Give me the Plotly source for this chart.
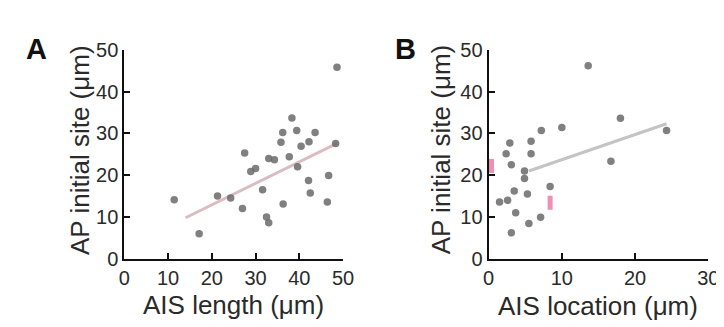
import plotly.graph_objects as go

# ---- Panel A: AP initial site vs AIS length ----
a_x = [11.4, 17.1, 21.3, 24.3, 27.0, 27.5, 28.9, 30.0, 31.6, 32.5, 33.0, 33.0, 34.3, 35.8, 36.2,
       36.3, 37.7, 38.3, 39.4, 39.6, 40.4, 42.2, 42.1, 42.5, 43.6, 46.7, 46.4, 48.3, 48.6]
a_y = [14.1, 6.0, 15.0, 14.5, 12.0, 25.3, 20.9, 21.6, 16.5, 10.0, 8.6, 24.0, 23.7, 27.9, 30.2,
       13.1, 24.4, 33.7, 30.7, 22.0, 26.9, 28.0, 18.7, 15.7, 30.2, 19.9, 13.6, 27.6, 45.8]
a_fit_x = [14.0, 48.6]
a_fit_y = [9.8, 27.6]

# ---- Panel B: AP initial site vs AIS location ----
b_x = [13.6, 18.0, 24.3, 16.7, 10.0, 7.2, 5.8, 2.9, 5.8, 2.4, 3.1, 4.9, 4.9, 3.5, 2.6,
       5.3, 8.4, 1.5, 3.7, 5.5, 7.1, 3.1]
b_y = [46.2, 33.6, 30.7, 23.3, 31.4, 30.7, 28.1, 27.7, 25.1, 25.1, 22.5, 21.0, 19.2, 16.2, 14.0,
       15.5, 17.3, 13.6, 11.0, 8.4, 9.9, 6.2]
b_pink_x = [0.4, 8.4]
b_pink_y = [22.2, 13.4]
b_fit_x = [5.5, 24.3]
b_fit_y = [21.0, 32.3]

x_ticks_a = [0, 10, 20, 30, 40, 50]
x_ticks_b = [0, 10, 20, 30]
y_ticks = [0, 10, 20, 30, 40, 50]

FONT = "Liberation Sans, Arial, sans-serif"
TXT = "#2a2a2a"
MARK = "#6a6a6a"

fig = go.Figure()

fig.add_trace(go.Scatter(x=a_fit_x, y=a_fit_y, mode="lines",
                         line=dict(color="#dcbcc4", width=3), xaxis="x", yaxis="y",
                         showlegend=False, hoverinfo="skip"))
fig.add_trace(go.Scatter(x=a_x, y=a_y, mode="markers",
                         marker=dict(color=MARK, size=7.5, opacity=0.85),
                         xaxis="x", yaxis="y", showlegend=False))

fig.add_trace(go.Scatter(x=b_fit_x, y=b_fit_y, mode="lines",
                         line=dict(color="#c4c4c4", width=3), xaxis="x2", yaxis="y2",
                         showlegend=False, hoverinfo="skip"))
fig.add_trace(go.Scatter(x=b_x, y=b_y, mode="markers",
                         marker=dict(color=MARK, size=7.5, opacity=0.85),
                         xaxis="x2", yaxis="y2", showlegend=False))
fig.add_trace(go.Scatter(x=b_pink_x, y=b_pink_y, mode="markers",
                         marker=dict(color="#ea6a98", size=10, opacity=0.75,
                                     symbol="line-ns", line=dict(color="#ea6a98", width=5)),
                         xaxis="x2", yaxis="y2", showlegend=False))

axis_common = dict(showline=True, linecolor="#111", linewidth=2, ticks="inside",
                   ticklen=6, tickwidth=1.5, tickcolor="#111", showgrid=False,
                   zeroline=False, mirror=False,
                   tickfont=dict(family=FONT, size=20, color=TXT))

y_top = 1 - 33 / 327
y_bot = 1 - 257 / 327

fig.update_layout(
    width=724, height=327,
    margin=dict(l=0, r=0, t=0, b=0),
    paper_bgcolor="white", plot_bgcolor="white",
    font=dict(family=FONT, color=TXT),
    xaxis=dict(domain=[113 / 724, 337 / 724], range=[0, 50], tickvals=x_ticks_a,
               anchor="y", **axis_common),
    yaxis=dict(domain=[y_bot, y_top], range=[0, 50], tickvals=y_ticks,
               anchor="x", ticklabelstandoff=0, **axis_common),
    xaxis2=dict(domain=[486 / 724, 711 / 724], range=[0, 30], tickvals=x_ticks_b,
                anchor="y2", **axis_common),
    yaxis2=dict(domain=[y_bot, y_top], range=[0, 50], tickvals=y_ticks,
                anchor="x2", ticklabelstandoff=0, **axis_common),
)

ann = [
    dict(text="A", x=23, y=32, font=dict(size=29, family=FONT, color="#111"), bold=True),
    dict(text="B", x=401, y=32, font=dict(size=29, family=FONT, color="#111"), bold=True),
    dict(text="AIS length (μm)", x=225, y=307, font=dict(size=26, family=FONT, color=TXT)),
    dict(text="AIS location (μm)", x=598, y=308, font=dict(size=26, family=FONT, color=TXT)),
    dict(text="AP initial site (μm)", x=67, y=140, angle=-90,
         font=dict(size=26, family=FONT, color=TXT)),
    dict(text="AP initial site (μm)", x=437, y=140, angle=-90,
         font=dict(size=26, family=FONT, color=TXT)),
]
for a in ann:
    txt = "<b>%s</b>" % a["text"] if a.get("bold") else a["text"]
    fig.add_annotation(text=txt, x=a["x"] / 724, y=1 - a["y"] / 327,
                       xref="paper", yref="paper", showarrow=False,
                       xanchor="center", yanchor="middle",
                       textangle=a.get("angle", 0), font=a["font"])

fig.write_html("out.html")
